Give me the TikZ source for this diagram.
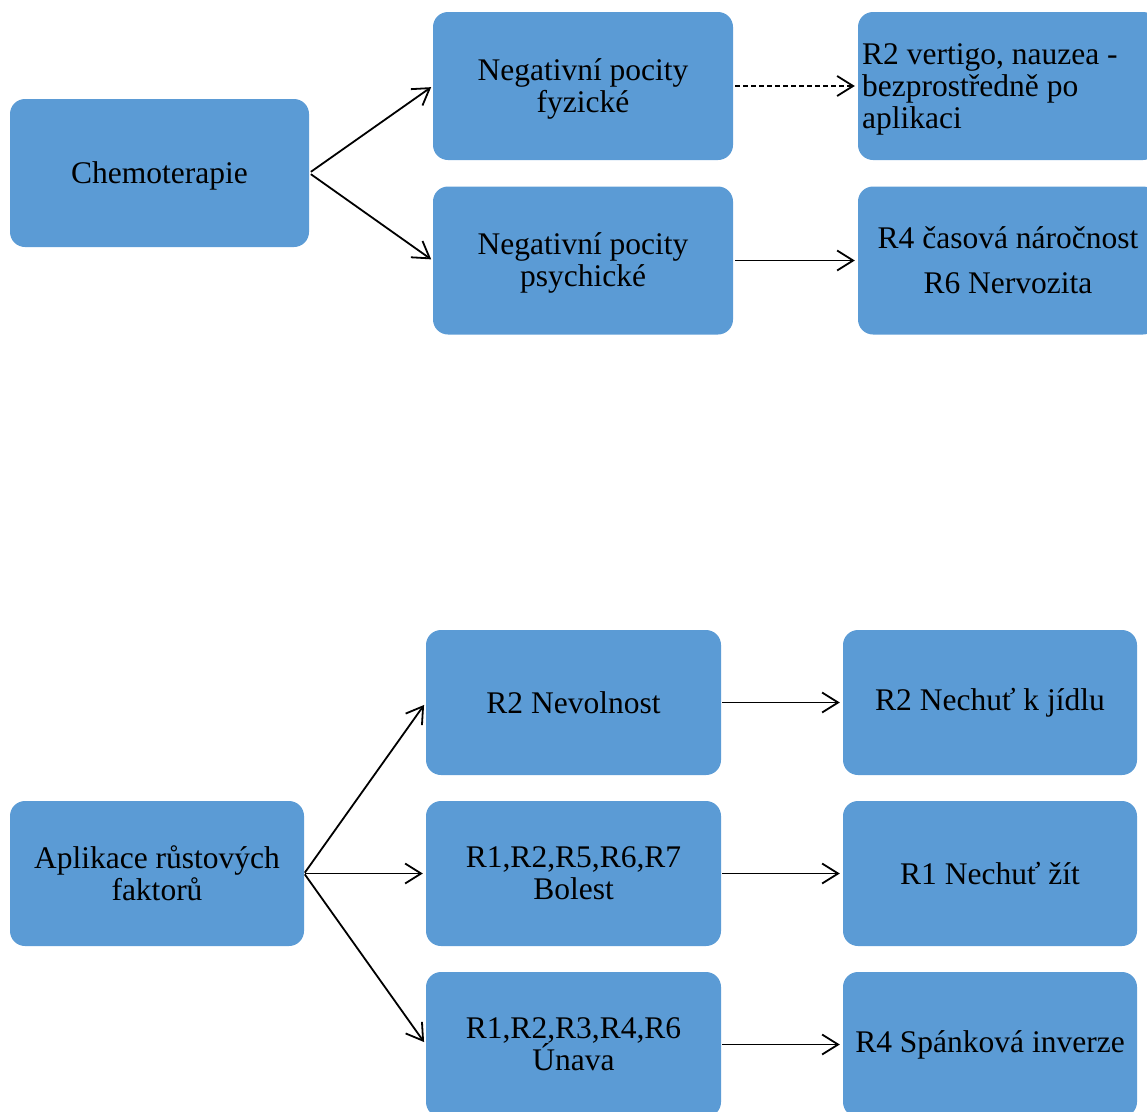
\documentclass[tikz,border=0pt]{standalone}
\usepackage{fontspec}
\setmainfont{Liberation Serif}
\usetikzlibrary{arrows.meta}
\definecolor{boxblue}{HTML}{5B9BD5}
\begin{document}
\begin{tikzpicture}[x=1pt,y=-1pt,
  box/.style={draw=none, fill=boxblue, rounded corners=15pt, inner sep=0pt},
  txt/.style={inner sep=0pt, align=center, font=\fontsize{31.5}{32}\selectfont},
  arr/.style={-{Straight Barb[length=16pt,width=20pt]}, line width=1.8pt, black},
  dasharr/.style={arr, dash pattern=on 5pt off 3pt}
]
\useasboundingbox (0,0) rectangle (1147,1111);
% top group
\node[box, minimum width=299pt, minimum height=148pt] (chemo) at (159.5,173) {};
\node[txt] (chemo-t) at (159.5,175.5) {Chemoterapie};
\node[box, minimum width=300pt, minimum height=148pt] (fyz) at (583,86) {};
\node[txt] (fyz-t) at (583,88.5) {Negativní pocity\\fyzické};
\node[box, minimum width=300pt, minimum height=148pt] (psy) at (583,260.5) {};
\node[txt] (psy-t) at (583,263) {Negativní pocity\\psychické};
\node[box, minimum width=300pt, minimum height=148pt] (vert) at (1008,86) {};
\node[txt, anchor=west, align=left] (vert-t) at (862,89.5) {R2 vertigo, nauzea -\\bezprostředně po\\aplikaci};
\node[box, minimum width=300pt, minimum height=148pt] (cas) at (1008,260.5) {};
\node[txt] (cas-t) at (1008,260.5) {R4 časová náročnost\\[13pt]R6 Nervozita};
\draw[arr, shorten <=2pt, shorten >=2pt] (chemo.east) -- (fyz.west);
\draw[arr, shorten <=2pt, shorten >=2pt] (chemo.east) -- (psy.west);
\draw[dasharr, shorten <=2pt, shorten >=3pt] (fyz.east) -- (vert.west);
\draw[arr, shorten <=2pt, shorten >=3pt] (psy.east) -- (cas.west);
% bottom group
\node[box, minimum width=294pt, minimum height=145pt] (apl) at (157,873.5) {};
\node[txt] (apl-t) at (157,873.5) {Aplikace růstových\\faktorů};
\node[box, minimum width=295pt, minimum height=145pt] (nev) at (573.5,702.5) {};
\node[txt] (nev-t) at (573.5,702.5) {R2 Nevolnost};
\node[box, minimum width=295pt, minimum height=145pt] (bol) at (573.5,873.5) {};
\node[txt] (bol-t) at (573.5,873.5) {R1,R2,R5,R6,R7\\Bolest};
\node[box, minimum width=295pt, minimum height=145pt] (una) at (573.5,1044.5) {};
\node[txt] (una-t) at (573.5,1044.5) {R1,R2,R3,R4,R6\\Únava};
\node[box, minimum width=294pt, minimum height=145pt] (nech) at (990,702.5) {};
\node[txt] (nech-t) at (990,702.5) {R2 Nechuť k jídlu};
\node[box, minimum width=294pt, minimum height=145pt] (zit) at (990,873.5) {};
\node[txt] (zit-t) at (990,873.5) {R1 Nechuť žít};
\node[box, minimum width=294pt, minimum height=145pt] (span) at (990,1044.5) {};
\node[txt] (span-t) at (990,1044.5) {R4 Spánková inverze};
\draw[arr, shorten <=1pt, shorten >=3pt] (apl.east) -- (nev.west);
\draw[arr, shorten <=1pt, shorten >=3pt] (apl.east) -- (bol.west);
\draw[arr, shorten <=1pt, shorten >=3pt] (apl.east) -- (una.west);
\draw[arr, shorten <=1pt, shorten >=3pt] (nev.east) -- (nech.west);
\draw[arr, shorten <=1pt, shorten >=3pt] (bol.east) -- (zit.west);
\draw[arr, shorten <=1pt, shorten >=3pt] (una.east) -- (span.west);
\end{tikzpicture}
\end{document}
